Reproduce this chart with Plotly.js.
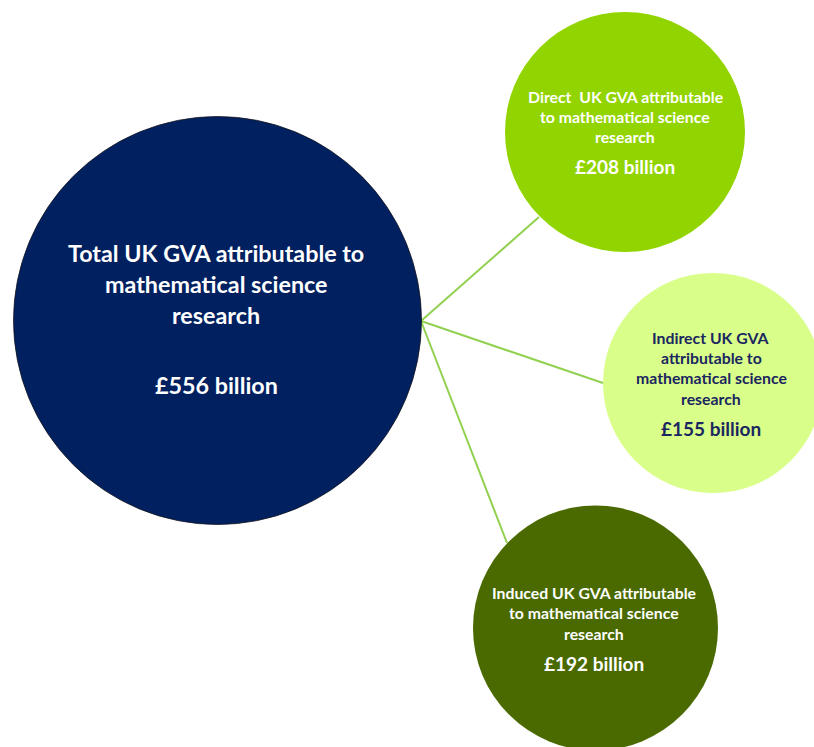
<!DOCTYPE html>
<html>
<head>
<meta charset="utf-8">
<script src="https://cdn.plot.ly/plotly-3.0.1.min.js"></script>
<style>html,body{margin:0;padding:0;background:#fff;}#chart{width:814px;height:747px;}</style>
</head>
<body>
<div id="chart"></div>
<script>
// ---- data ----
const categories = ['Total', 'Direct', 'Indirect', 'Induced'];
const labelLines = [
  ['Total UK GVA attributable to', 'mathematical science', 'research'],
  ['Direct\u00a0 UK GVA attributable', 'to mathematical science', 'research'],
  ['Indirect UK GVA', 'attributable to', 'mathematical science', 'research'],
  ['Induced UK GVA attributable', 'to mathematical science', 'research']
];
const valuesBn = [556, 208, 155, 192];
const currencySymbol = '£';
const unitLabel = 'billion';

// ---- layout / style (pixel-space positions) ----
const geom = [
  {cx: 217.5, cy: 320.5, r: 204,   fill: '#002060', txt: '#ffffff', tx: 216, lineY: [253, 284, 315], valY: 385, fs: 23.3, vfs: 23.3, border: 'rgba(20,20,30,0.8)'},
  {cx: 625,   cy: 132,   r: 120,   fill: '#92D400', txt: '#ffffff', tx: 625, lineY: [96, 116, 136], valY: 166, fs: 15.8, vfs: 19, border: 'rgba(0,0,0,0)'},
  {cx: 713,   cy: 383,   r: 110,   fill: '#D9FF8A', txt: '#1B2660', tx: 711, lineY: [337, 357, 377, 398], valY: 428, fs: 15.8, vfs: 19, border: 'rgba(0,0,0,0)'},
  {cx: 595.5, cy: 628,   r: 122.5, fill: '#4A6A00', txt: '#ffffff', tx: 594, lineY: [592, 612, 633], valY: 663, fs: 15.8, vfs: 19, border: 'rgba(0,0,0,0)'}
];
const hub = [421, 321];
const connectorEnds = [null, [539, 217], [603, 383], [507, 543]];
const connectorColor = '#92D050';
const FONT = 'Lato, "Open Sans", sans-serif';

const shapes = [];
categories.forEach((c, i) => {
  if (connectorEnds[i]) {
    shapes.push({type: 'line', xref: 'x', yref: 'y', x0: hub[0], y0: hub[1], x1: connectorEnds[i][0], y1: connectorEnds[i][1],
      line: {color: connectorColor, width: 2}, layer: 'below'});
  }
});
categories.forEach((c, i) => {
  const g = geom[i];
  shapes.push({type: 'circle', xref: 'x', yref: 'y', x0: g.cx - g.r, x1: g.cx + g.r, y0: g.cy - g.r, y1: g.cy + g.r,
    fillcolor: g.fill, line: {color: g.border, width: 1}, layer: 'above'});
});

const annotations = [];
categories.forEach((c, i) => {
  const g = geom[i];
  labelLines[i].forEach((t, j) => {
    annotations.push({x: g.tx, y: g.lineY[j], xref: 'x', yref: 'y', text: '<b>' + t + '</b>', showarrow: false,
      xanchor: 'center', yanchor: 'middle', font: {family: FONT, size: g.fs, color: g.txt}});
  });
  annotations.push({x: g.tx, y: g.valY, xref: 'x', yref: 'y', text: '<b>' + currencySymbol + valuesBn[i] + ' ' + unitLabel + '</b>',
    showarrow: false, xanchor: 'center', yanchor: 'middle', font: {family: FONT, size: g.vfs, color: g.txt}});
});

const layout = {
  width: 814, height: 747,
  margin: {l: 0, r: 0, t: 0, b: 0},
  paper_bgcolor: '#ffffff', plot_bgcolor: '#ffffff',
  xaxis: {range: [0, 814], visible: false, fixedrange: true},
  yaxis: {range: [747, 0], visible: false, fixedrange: true},
  shapes: shapes,
  annotations: annotations,
  showlegend: false
};

Plotly.newPlot('chart', [{x: [], y: [], type: 'scatter', mode: 'markers', hoverinfo: 'skip'}], layout, {staticPlot: true, displayModeBar: false});
</script>
</body>
</html>
